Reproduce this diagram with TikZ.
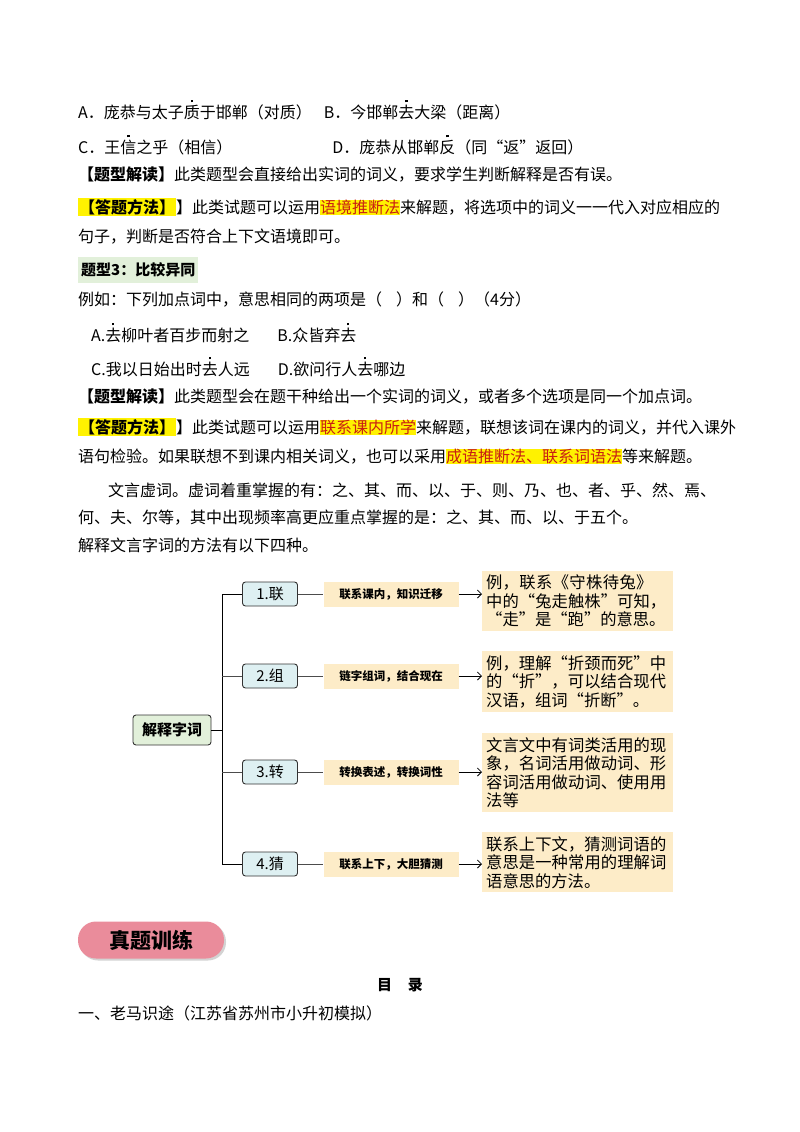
\documentclass[tikz,border=0pt]{standalone}
\usepackage{fontspec}
\setmainfont{Noto Sans CJK SC}
\XeTeXlinebreaklocale "zh"
\XeTeXlinebreakskip=0pt plus 1pt
\usetikzlibrary{arrows.meta,shadows}
\definecolor{hl}{RGB}{255,242,0}
\definecolor{hlred}{RGB}{200,30,20}
\definecolor{lab}{RGB}{253,236,200}
\definecolor{blu}{RGB}{222,240,242}
\definecolor{grn}{RGB}{226,240,218}
\definecolor{pnk}{RGB}{234,140,155}
\newcommand\zdot[1]{\rlap{\makebox[1em]{\raisebox{1.0em}{\rule{2.2pt}{2.2pt}}}}#1}
\tikzset{
 txt/.style={anchor=west,inner sep=0pt,font=\fontsize{16}{19}\selectfont},
 num/.style={draw=black!80,line width=0.9pt,fill=blu,rounded corners=3pt,minimum width=55pt,minimum height=24pt,font=\fontsize{15}{18}\selectfont},
 lbl/.style={fill=lab,minimum width=135pt,minimum height=25pt,font=\fontsize{11.5}{14}\selectfont\bfseries},
 expl/.style={fill=lab,anchor=north west,text width=183pt,inner sep=4pt,align=left,font=\fontsize{16.3}{18.5}\selectfont}
}
\begin{document}
\begin{tikzpicture}[x=1pt,y=-1pt]
\useasboundingbox (0,0) rectangle (800,1132);
\node[txt] (l1) at (78,110) {A．庞恭与太子\zdot{质}于邯郸（对质）\hspace{12pt}B．今邯郸\zdot{去}大梁（距离）};
\node[txt] (l2) at (78,145) {C．王\zdot{信}之乎（相信）\hspace{100pt}D．庞恭从邯郸\zdot{反}（同“返”返回）};
\node[txt] (l3) at (78,175) {\textbf{【题型解读】}此类题型会直接给出实词的词义，要求学生判断解释是否有误。};
\node[txt] (l4) at (78,207) {{\fboxsep=1pt\colorbox{hl}{\textbf{【答题方法】}}}】此类试题可以运用{\fboxsep=0pt\colorbox{hl}{\textcolor{hlred}{语境推断法}}}来解题，将选项中的词义一一代入对应相应的};
\node[txt] (l5) at (78,237) {句子，判断是否符合上下文语境即可。};
\node[fill=grn,anchor=west,inner sep=3pt,minimum height=26pt,font=\fontsize{15}{18}\selectfont\bfseries] (t3) at (78,270) {题型3：比较异同};
\node[txt] (m1) at (78,300) {例如：下列加点词中，意思相同的两项是（\hspace{14pt}）和（\hspace{14pt}）（4分）};
\node[txt] (m2) at (91,333) {A.\zdot{去}柳叶者百步而射之\hspace{28pt}B.众皆弃\zdot{去}};
\node[txt] (m3) at (91,367) {C.我以日始出时\zdot{去}人远\hspace{28pt}D.欲问行人\zdot{去}哪边};
\node[txt] (m4) at (78,397) {\textbf{【题型解读】}此类题型会在题干种给出一个实词的词义，或者多个选项是同一个加点词。};
\node[txt] (m5) at (78,427) {{\fboxsep=1pt\colorbox{hl}{\textbf{【答题方法】}}}】此类试题可以运用{\fboxsep=0pt\colorbox{hl}{\textcolor{hlred}{联系课内所学}}}来解题，联想该词在课内的词义，并代入课外};
\node[txt] (m6) at (78,457) {语句检验。如果联想不到课内相关词义，也可以采用{\fboxsep=0pt\colorbox{hl}{\textcolor{hlred}{成语推断法、联系词语法}}}等来解题。};
\node[txt] (m7) at (108,490) {文言虚词。虚词着重掌握的有：之、其、而、以、于、则、乃、也、者、乎、然、焉、};
\node[txt] (m8) at (78,518) {何、夫、尔等，其中出现频率高更应重点掌握的是：之、其、而、以、于五个。};
\node[txt] (m9) at (78,545) {解释文言字词的方法有以下四种。};
% diagram
\node[draw=black!80,line width=0.9pt,fill=grn,rounded corners=3pt,minimum width=78pt,minimum height=30pt,font=\fontsize{15}{18}\selectfont\bfseries] (root) at (172,730) {解释字词};
\coordinate (jt) at (222,594);
\coordinate (jb) at (222,864);
\coordinate (jm) at (222,730);
\node[num] (n1) at (270,594) {1.联};
\node[num] (n2) at (270,676) {2.组};
\node[num] (n3) at (270,772) {3.转};
\node[num] (n4) at (270,864) {4.猜};
\node[lbl] (b1) at (391,594) {联系课内，知识迁移};
\node[lbl] (b2) at (391,676) {链字组词，结合现在};
\node[lbl] (b3) at (391,772) {转换表述，转换词性};
\node[lbl] (b4) at (391,864) {联系上下，大胆猜测};
\node[expl] (e1) at (482,571) {例，联系《守株待兔》中的“兔走触株”可知，“走”是“跑”的意思。};
\node[expl] (e2) at (482,651) {例，理解“折颈而死”中的“折”，可以结合现代汉语，组词“折断”。};
\node[expl] (e3) at (482,733) {文言文中有词类活用的现象，名词活用做动词、形容词活用做动词、使用用法等};
\node[expl] (e4) at (482,832) {联系上下文，猜测词语的意思是一种常用的理解词语意思的方法。};
\draw[line width=0.9pt] (root.east) -- (jm);
\draw[line width=0.9pt] (n1.west) -- (jt) -- (jb) -- (n4.west);
\draw[line width=0.6pt,black!70] (jm |- n2) -- (n2.west);
\draw[line width=0.6pt,black!70] (jm |- n3) -- (n3.west);
\foreach \i in {1,2,3,4}{
 \draw[line width=0.6pt,black!70] (n\i.east) -- (b\i.west);
 \draw[line width=0.8pt,-{Straight Barb[length=4pt]}] (b\i.east) -- (b\i.east -| e\i.west);
}
% bottom
\node[fill=pnk,rounded corners=18pt,minimum width=146pt,minimum height=37pt,drop shadow={opacity=0.35,shadow xshift=2pt,shadow yshift=-2pt},font=\fontsize{21}{24}\selectfont\bfseries] (zt) at (151,940) {真题训练};
\node[font=\fontsize{15}{18}\selectfont\bfseries] (ml) at (400,985) {目\hspace{16pt}录};
\node[txt,font=\fontsize{16}{19}\selectfont] (y1) at (78,1013) {一、老马识途（江苏省苏州市小升初模拟）};
\end{tikzpicture}
\end{document}
